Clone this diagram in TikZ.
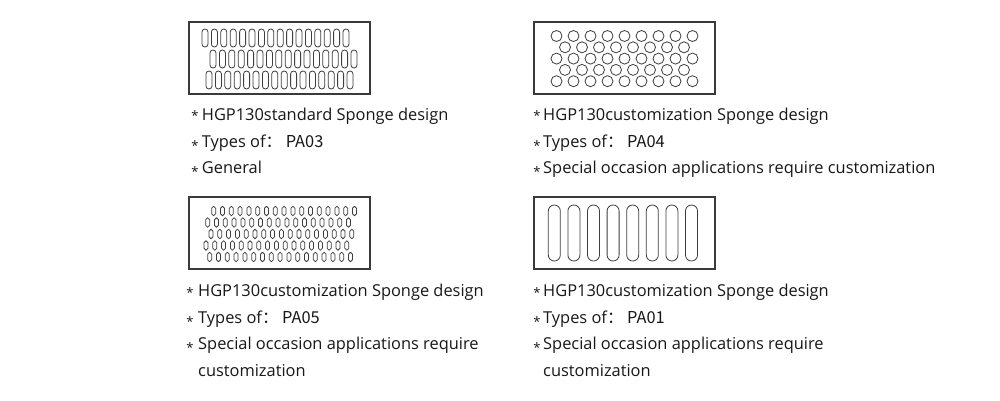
\documentclass[tikz,border=0pt]{standalone}
\usepackage{fontspec}
\setmainfont{Open Sans}
\newfontfamily\cjk{Noto Sans CJK SC}
\definecolor{txtc}{HTML}{1A1718}
\definecolor{framec}{HTML}{3A3A3A}
\definecolor{holec}{HTML}{3E3E3E}
\begin{document}
\begin{tikzpicture}[x=1pt,y=-1pt,
  txt/.style={anchor=base west, inner sep=0pt, font=\fontsize{16.4}{19}\selectfont, text=txtc},
  bul/.style={anchor=base, inner sep=0pt, font=\fontsize{13}{14}\selectfont, text=txtc},
  frame/.style={draw=framec, line width=1.1pt},
  hole/.style={draw=holec, line width=0.8pt}]
\useasboundingbox[fill=white] (0,0) rectangle (1000,400);

% ---------- frames ----------
\draw[frame] (189,22) rectangle (370,94);
\draw[frame] (534,22) rectangle (715,94);
\draw[frame] (189,197) rectangle (370,269);
\draw[frame] (534,197) rectangle (715,269);

% ---------- panel 1: PA03 oval slots ----------
\foreach \xs/\yy in {205/38, 213/59, 209/80} {
  \foreach \k in {0,...,15} {
    \pgfmathsetmacro\cx{\xs+9.4*\k}
    \draw[hole, rounded corners=2.95pt] (\cx-3,\yy-9) rectangle (\cx+3,\yy+9);
  }
}

% ---------- panel 2: PA04 circles ----------
\foreach \yy in {36, 58.6, 81.2} {
  \foreach \k in {0,...,8} {
    \pgfmathsetmacro\cx{556.5+17*\k}
    \draw[hole] (\cx,\yy) circle[radius=5.5];
  }
}
\foreach \yy in {47.3, 69.9} {
  \foreach \k in {0,...,7} {
    \pgfmathsetmacro\cx{565+17*\k}
    \draw[hole] (\cx,\yy) circle[radius=5.5];
  }
}

% ---------- panel 3: PA05 small slots ----------
\foreach \xs/\yy in {213.7/211, 207.7/222.5, 211/234, 206/245.5, 209.7/257} {
  \foreach \k in {0,...,16} {
    \pgfmathsetmacro\cx{\xs+8.8*\k}
    \draw[hole, line width=0.75pt, rounded corners=1.95pt] (\cx-2,\yy-4.7) rectangle (\cx+2,\yy+4.7);
  }
}

% ---------- panel 4: PA01 long slots ----------
\foreach \k in {0,...,7} {
  \pgfmathsetmacro\lx{548.3+19.6*\k}
  \draw[hole, rounded corners=5.95pt] (\lx,205) rectangle (\lx+12,261);
}

% ---------- texts panel 1 ----------
\node[bul] (b11) at (195,120.8) {*};
\node[txt] (t11) at (201.7,120.5) {HGP130standard Sponge design};
\node[bul] (b12) at (195,150.1) {*};
\node[txt] (t12) at (201.7,147) {Types of\cjk{：} PA03};
\node[bul] (b13) at (195,176.6) {*};
\node[txt] (t13) at (201.7,173.5) {General};

% ---------- texts panel 2 ----------
\node[bul] (b21) at (537,120.8) {*};
\node[txt] (t21) at (543,120.5) {HGP130customization Sponge design};
\node[bul] (b22) at (537,150.1) {*};
\node[txt] (t22) at (543,147) {Types of\cjk{：} PA04};
\node[bul] (b23) at (537,176.6) {*};
\node[txt] (t23) at (543,173.5) {Special occasion applications require customization};

% ---------- texts panel 3 ----------
\node[bul] (b31) at (190,297) {*};
\node[txt] (t31) at (198,296.7) {HGP130customization Sponge design};
\node[bul] (b32) at (190,326.4) {*};
\node[txt] (t32) at (198,323.3) {Types of\cjk{：} PA05};
\node[bul] (b33) at (190,352.6) {*};
\node[txt] (t33) at (198,349.5) {Special occasion applications require};
\node[txt] (t34) at (198,376) {customization};

% ---------- texts panel 4 ----------
\node[bul] (b41) at (537,297) {*};
\node[txt] (t41) at (543,296.7) {HGP130customization Sponge design};
\node[bul] (b42) at (537,326.4) {*};
\node[txt] (t42) at (543,323.3) {Types of\cjk{：} PA01};
\node[bul] (b43) at (537,352.6) {*};
\node[txt] (t43) at (543,349.5) {Special occasion applications require};
\node[txt] (t44) at (543,376) {customization};
\end{tikzpicture}
\end{document}
